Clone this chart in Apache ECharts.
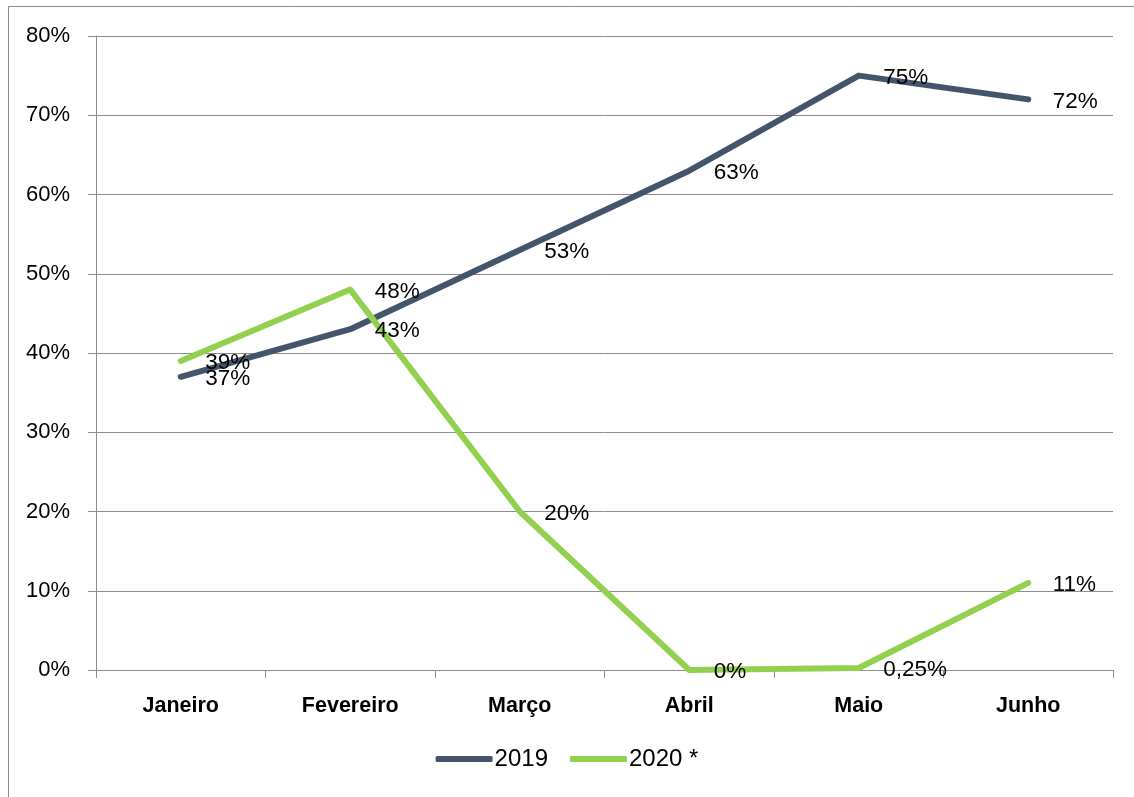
<!DOCTYPE html>
<html>
<head>
<meta charset="utf-8">
<script src="https://cdn.jsdelivr.net/npm/echarts@6/dist/echarts.min.js"></script>
<style>
  html, body { margin: 0; padding: 0; background: #fff; }
  #chart { width: 1134px; height: 797px; }
</style>
</head>
<body>
<div id="chart"></div>
<script>
// Monthly occupancy rates, January to June
const months = ['Janeiro', 'Fevereiro', 'Março', 'Abril', 'Maio', 'Junho'];
const values2019 = [37, 43, 53, 63, 75, 72];
const values2020 = [39, 48, 20, 0, 0.25, 11];
const seriesNames = ['2019', '2020 *'];
const yTicks = { min: 0, max: 80, step: 10 };

const FONT = 'Liberation Sans, Arial, sans-serif';
const GRID_GRAY = '#8c8c8c';

// Percent text with a decimal comma, whole numbers kept plain
function pct(v) {
  return String(v).replace('.', ',') + '%';
}

function lineSeries(name, data, color) {
  return {
    name: name,
    type: 'line',
    data: data,
    symbol: 'circle',
    symbolSize: 1,
    itemStyle: { color: color },
    lineStyle: { color: color, width: 6, cap: 'round', join: 'round' },
    label: {
      show: true,
      position: 'right',
      distance: 24,
      offset: [0, 2],
      color: '#000',
      fontFamily: FONT,
      fontSize: 22.5,
      formatter: p => pct(p.value)
    },
    emphasis: { disabled: true },
    animation: false
  };
}

const chart = echarts.init(document.getElementById('chart'), null, { renderer: 'canvas' });
chart.setOption({
  backgroundColor: '#fff',
  animation: false,
  graphic: [{
    type: 'rect',
    shape: { x: 8.5, y: 6.5, width: 1200, height: 900 },
    style: { fill: 'none', stroke: '#8a8a8a', lineWidth: 1 },
    silent: true
  }],
  grid: { left: 96, right: 21, top: 36, bottom: 127, containLabel: false },
  legend: {
    bottom: 21,
    left: 'center',
    icon: 'roundRect',
    itemWidth: 57,
    itemHeight: 6,
    itemGap: 22,
    textStyle: { color: '#000', fontFamily: FONT, fontSize: 24, padding: [0, 0, 0, -3] },
    data: seriesNames
  },
  xAxis: {
    type: 'category',
    data: months,
    boundaryGap: true,
    axisLine: { show: true, lineStyle: { color: GRID_GRAY, width: 1 } },
    axisTick: { show: true, length: 8, lineStyle: { color: GRID_GRAY } },
    axisLabel: {
      color: '#000',
      fontFamily: FONT,
      fontSize: 21.5,
      fontWeight: 'bold',
      margin: 25
    },
    splitLine: { show: false }
  },
  yAxis: {
    type: 'value',
    min: yTicks.min,
    max: yTicks.max,
    interval: yTicks.step,
    axisLine: { show: true, lineStyle: { color: GRID_GRAY, width: 1 } },
    axisTick: { show: true, length: 8, lineStyle: { color: GRID_GRAY } },
    axisLabel: {
      color: '#000',
      fontFamily: FONT,
      fontSize: 22,
      margin: 26,
      padding: [4, 0, 0, 0],
      formatter: v => v + '%'
    },
    splitLine: { show: true, lineStyle: { color: GRID_GRAY, width: 1 } }
  },
  series: [
    lineSeries(seriesNames[0], values2019, '#44546A'),
    lineSeries(seriesNames[1], values2020, '#92D050')
  ]
});
</script>
</body>
</html>
